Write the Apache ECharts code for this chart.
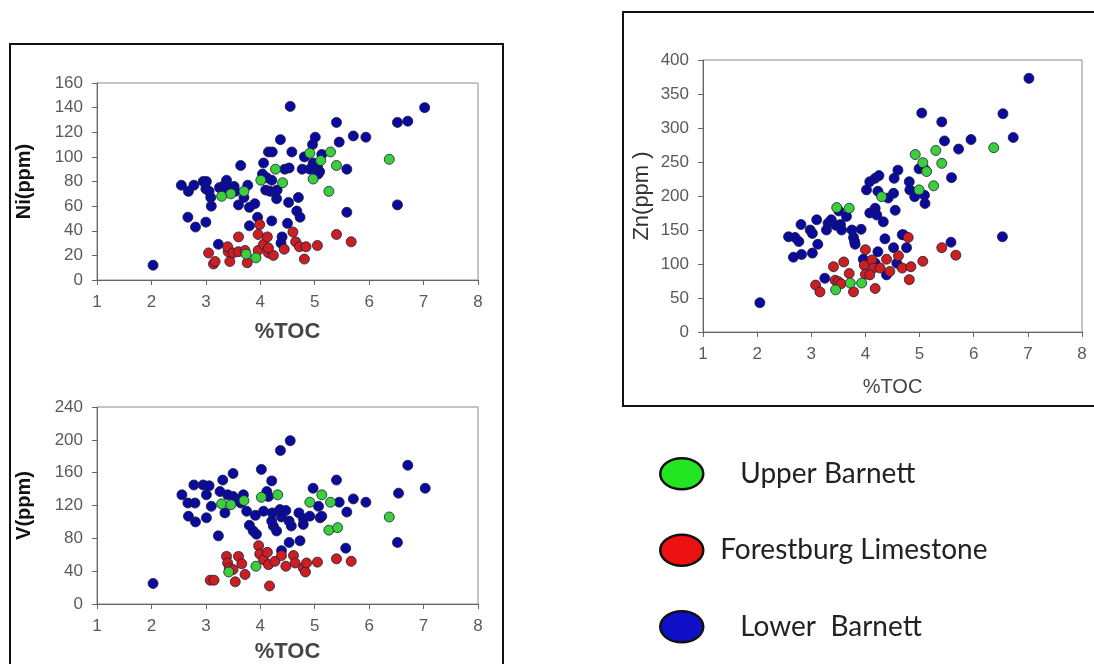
<!DOCTYPE html>
<html>
<head>
<meta charset="utf-8">
<script src="https://cdn.jsdelivr.net/npm/echarts@6/dist/echarts.min.js"></script>
<style>
  html, body { margin: 0; padding: 0; background: #fff; }
  #chart { width: 1094px; height: 664px; }
</style>
</head>
<body>
<div id="chart"></div>
<script>
// series names
var groups = ['Upper Barnett', 'Forestburg Limestone', 'Lower  Barnett'];

// Ni(ppm) vs %TOC  -> [TOC, ppm]
var niUpper = [[3.29,68],[3.46,70],[3.70,72],[3.92,18],[3.74,21],[4.01,81],[4.28,90],[4.41,79],[4.91,103],[4.97,82],[5.11,97],[5.29,104],[5.40,93],[5.26,72],[6.37,98]];
var niForest = [[3.05,22],[3.14,13],[3.17,15],[3.41,23],[3.40,27],[3.44,15],[3.50,22],[3.60,35],[3.60,23],[3.72,24],[3.76,14],[3.96,37],[3.99,45],[3.96,24],[4.06,29],[4.13,35],[4.15,22],[4.24,20],[4.15,26],[4.44,25],[4.60,39],[4.65,31],[4.72,27],[4.84,27],[4.81,17],[5.05,28],[5.40,37],[5.67,31]];
var niLower = [[2.03,12],[2.55,77],[2.68,72],[2.78,77],[2.67,51],[2.81,43],[2.95,80],[3.01,80],[3.00,74],[3.06,72],[3.09,67],[3.10,60],[3.00,47],[3.25,75],[3.31,76],[3.38,81],[3.37,75],[3.52,76],[3.54,72],[3.60,61],[3.64,93],[3.70,67],[3.77,77],[3.80,59],[3.90,62],[3.80,44],[3.95,51],[4.06,95],[4.04,86],[4.12,83],[4.21,81],[4.15,104],[4.22,104],[4.10,73],[4.18,72],[4.31,73],[4.30,66],[4.21,48],[4.37,114],[4.45,90],[4.53,91],[4.55,141],[4.58,104],[4.52,63],[4.50,46],[4.40,35],[4.70,67],[4.67,56],[4.73,51],[4.81,100],[4.77,90],[4.91,90],[4.97,95],[5.01,116],[4.96,110],[5.05,92],[5.09,88],[5.06,86],[5.13,102],[5.40,128],[5.45,112],[5.59,90],[5.59,55],[5.71,117],[5.94,116],[6.52,128],[6.71,129],[7.02,140],[6.52,61],[3.23,29],[4.38,30]];

// V(ppm) vs %TOC
var vUpper = [[3.29,122],[3.46,121],[3.70,126],[3.42,39],[3.92,46],[4.02,130],[4.32,133],[4.91,124],[5.13,133],[5.29,124],[5.26,90],[5.42,93],[6.37,106]];
var vForest = [[3.08,29],[3.15,29],[3.38,58],[3.40,50],[3.43,44],[3.50,42],[3.60,58],[3.66,49],[3.72,36],[3.54,27],[3.97,71],[3.99,61],[4.06,54],[4.13,63],[4.15,48],[4.27,52],[4.39,59],[4.47,46],[4.61,59],[4.64,50],[4.79,44],[4.83,39],[4.85,50],[5.05,51],[5.40,55],[5.67,52],[4.17,22]];
var vLower = [[2.03,25],[2.56,133],[2.67,123],[2.80,123],[2.68,107],[2.81,100],[2.78,145],[2.95,145],[3.06,144],[3.01,133],[3.10,119],[3.01,105],[3.23,83],[3.31,151],[3.50,159],[3.26,137],[3.40,133],[3.50,131],[3.60,127],[3.69,133],[3.35,111],[3.64,123],[3.75,113],[3.91,108],[3.80,96],[3.87,89],[3.93,85],[4.02,164],[4.21,150],[4.06,113],[4.12,137],[4.15,131],[4.22,111],[4.24,95],[4.21,101],[4.30,89],[4.36,115],[4.39,106],[4.47,114],[4.37,187],[4.55,199],[4.53,101],[4.57,95],[4.71,111],[4.79,97],[4.91,107],[4.97,141],[5.07,119],[5.10,105],[5.13,107],[4.79,104],[4.53,75],[4.39,65],[4.73,77],[5.40,151],[5.45,124],[5.59,112],[5.57,68],[5.71,128],[5.94,124],[6.54,135],[6.71,169],[7.03,141],[6.52,75]];

// Zn(ppm) vs %TOC
var znUpper = [[3.47,183],[3.70,182],[3.45,62],[3.72,72],[3.93,72],[4.30,199],[4.92,261],[5.06,249],[5.13,236],[4.99,209],[5.30,267],[5.41,248],[5.26,215],[6.37,271]];
var znForest = [[3.08,69],[3.16,59],[3.41,96],[3.44,76],[3.50,74],[3.55,71],[3.60,103],[3.70,86],[3.78,59],[4.00,121],[3.98,98],[4.00,85],[4.12,106],[4.15,94],[4.18,64],[4.27,94],[4.39,107],[4.45,89],[4.61,112],[4.68,94],[4.79,139],[4.84,96],[4.81,77],[5.06,104],[5.41,124],[5.67,113],[4.08,84]];
var znLower = [[2.05,43],[2.58,140],[2.70,139],[2.67,110],[2.82,114],[2.81,158],[2.77,133],[2.98,150],[3.02,145],[3.02,116],[3.12,129],[3.10,165],[3.25,79],[3.28,150],[3.31,160],[3.37,165],[3.45,157],[3.54,158],[3.51,178],[3.65,170],[3.56,150],[3.75,150],[3.78,139],[3.81,129],[3.92,151],[3.80,133],[4.02,209],[4.08,221],[4.18,226],[4.25,230],[4.23,207],[4.08,175],[4.18,182],[4.21,172],[4.33,162],[4.36,137],[4.23,118],[3.96,107],[4.18,101],[4.39,84],[4.52,124],[4.55,179],[4.52,204],[4.53,226],[4.60,238],[4.42,197],[4.70,143],[4.76,124],[4.58,101],[4.81,221],[4.82,209],[4.91,199],[5.09,201],[5.10,189],[5.04,322],[4.99,240],[5.10,239],[5.41,309],[5.46,281],[5.59,227],[5.72,269],[5.95,283],[6.54,321],[6.73,286],[7.02,373],[6.53,140],[5.58,132],[4.68,143]];

var pointColors = ['#3ccf3c', '#cc2020', '#0a0a9c'];
var legendColors = ['#22e622', '#ee1111', '#1010c8'];

function axisX(gridIndex, bold, nameSize, nameGap){
    return {
        gridIndex: gridIndex,
        type: 'value',
        min: 1, max: 8, interval: 1,
        name: '%TOC',
        nameLocation: 'middle',
        nameGap: nameGap,
        nameTextStyle: {
            fontFamily: 'Liberation Sans, Arial, sans-serif',
            fontSize: nameSize,
            fontWeight: bold ? 'bold' : 'normal',
            color: '#444'
        },
        axisLine: { onZero: false, lineStyle: { color: '#666', width: 1 } },
        axisTick: { show: true, length: 5, lineStyle: { color: '#666' } },
        axisLabel: { fontFamily: 'Liberation Sans, Arial, sans-serif', fontSize: 17, color: '#5a5a5a', margin: 14 },
        splitLine: { show: false }
    };
}

function axisY(gridIndex, name, max, interval, bold, nameSize, nameGap){
    return {
        gridIndex: gridIndex,
        type: 'value',
        min: 0, max: max, interval: interval,
        name: name,
        nameLocation: 'middle',
        nameGap: nameGap,
        nameTextStyle: {
            fontFamily: 'Liberation Sans, Arial, sans-serif',
            fontSize: nameSize,
            fontWeight: bold ? 'bold' : 'normal',
            color: bold ? '#111' : '#333'
        },
        axisLine: { show: true, lineStyle: { color: '#666', width: 1 } },
        axisTick: { show: true, length: 5, lineStyle: { color: '#666' } },
        axisLabel: { fontFamily: 'Liberation Sans, Arial, sans-serif', fontSize: 17, color: '#5a5a5a', margin: 14 },
        splitLine: { show: false }
    };
}

function scatter(name, data, idx, colorIdx){
    return {
        name: name,
        type: 'scatter',
        xAxisIndex: idx,
        yAxisIndex: idx,
        symbolSize: 10,
        data: data,
        itemStyle: {
            color: pointColors[colorIdx],
            borderColor: '#1a1a40',
            borderWidth: 0.8,
            opacity: 1
        }
    };
}

var legendIcon = 'path://M0,15.5A21.5,15.5,0,1,1,43,15.5A21.5,15.5,0,1,1,0,15.5Z';

var option = {
    backgroundColor: '#fff',
    animation: false,
    graphic: [
        { type: 'rect', shape: { x: 10, y: 44, width: 493, height: 640 },
          style: { fill: 'none', stroke: '#111', lineWidth: 2 }, z: -1 },
        { type: 'rect', shape: { x: 623, y: 12, width: 480, height: 394 },
          style: { fill: 'none', stroke: '#111', lineWidth: 2 }, z: -1 }
    ],
    legend: {
        orient: 'vertical',
        left: 654,
        top: 452,
        itemWidth: 43,
        itemHeight: 31,
        itemGap: 43,
        icon: legendIcon,
        itemStyle: { borderColor: '#111', borderWidth: 2.5 },
        data: groups.map(function(g, i){
            return { name: g, itemStyle: { color: legendColors[i], borderColor: '#111', borderWidth: 2.5 } };
        }),
        formatter: function(name){
            return name === 'Forestburg Limestone' ? '{f|' + name + '}' : '{u|' + name + '}';
        },
        textStyle: {
            fontFamily: 'Lato, sans-serif',
            fontSize: 28,
            color: '#222',
            rich: {
                f: { fontFamily: 'Lato, sans-serif', fontSize: 28, color: '#222', padding: [0, 0, 0, 12] },
                u: { fontFamily: 'Lato, sans-serif', fontSize: 28, color: '#222', padding: [0, 0, 0, 32] }
            }
        }
    },
    grid: [
        { left: 97, top: 83, width: 381, height: 197, show: true, borderColor: '#8a8a8a', borderWidth: 1 },
        { left: 97, top: 407, width: 381, height: 198, show: true, borderColor: '#8a8a8a', borderWidth: 1 },
        { left: 703, top: 60, width: 379, height: 272, show: true, borderColor: '#8a8a8a', borderWidth: 1 }
    ],
    xAxis: [
        axisX(0, true, 22, 41),
        axisX(1, true, 22, 37),
        axisX(2, false, 20, 45)
    ],
    yAxis: [
        axisY(0, 'Ni(ppm)', 160, 20, true, 20, 63),
        axisY(1, 'V(ppm)', 240, 40, true, 20, 63),
        axisY(2, 'Zn(ppm )', 400, 50, false, 22, 50)
    ],
    series: [
        scatter(groups[2], niLower, 0, 2),
        scatter(groups[1], niForest, 0, 1),
        scatter(groups[0], niUpper, 0, 0),
        scatter(groups[2], vLower, 1, 2),
        scatter(groups[1], vForest, 1, 1),
        scatter(groups[0], vUpper, 1, 0),
        scatter(groups[2], znLower, 2, 2),
        scatter(groups[1], znForest, 2, 1),
        scatter(groups[0], znUpper, 2, 0)
    ]
};

var myChart = echarts.init(document.getElementById('chart'));
myChart.setOption(option);
</script>
</body>
</html>
